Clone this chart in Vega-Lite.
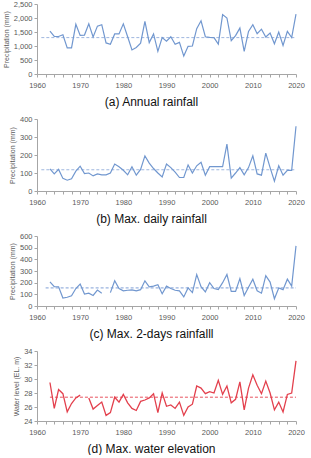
{
  "$schema": "https://vega.github.io/schema/vega-lite/v6.json",
  "padding": {"top": 0, "left": 2, "right": 4, "bottom": 0},
  "config": {
    "view": {"stroke": null},
    "font": "Liberation Sans",
    "concat": {"spacing": 7},
    "axis": {"grid": false, "domainColor": "#a6a6a6", "tickColor": "#a6a6a6", "labelColor": "#595959", "labelFontSize": 7.5, "titleColor": "#595959", "titleFontSize": 7, "titleFontWeight": "normal", "tickSize": 3},
    "axisX": {"labelFlush": false, "labelOverlap": false, "titleFontSize": 12, "titleColor": "#111111", "titleX": 114, "titleAlign": "center", "titlePadding": 8, "labelPadding": 4},
    "axisY": {"titlePadding": 4, "labelPadding": 2, "labelOverlap": false}
  },
  "datasets": {
    "annual": [
      {"year":1963,"v":1530},{"year":1964,"v":1345},{"year":1965,"v":1340},{"year":1966,"v":1400},{"year":1967,"v":930},{"year":1968,"v":930},{"year":1969,"v":1775},{"year":1970,"v":1380},{"year":1971,"v":1390},{"year":1972,"v":1790},{"year":1973,"v":1320},{"year":1974,"v":1710},{"year":1975,"v":1760},{"year":1976,"v":1110},{"year":1977,"v":1060},{"year":1978,"v":1430},{"year":1979,"v":1430},{"year":1980,"v":1790},{"year":1981,"v":1330},{"year":1982,"v":860},{"year":1983,"v":950},{"year":1984,"v":1100},{"year":1985,"v":1880},{"year":1986,"v":1120},{"year":1987,"v":1430},{"year":1988,"v":810},{"year":1989,"v":1300},{"year":1990,"v":1170},{"year":1991,"v":1330},{"year":1992,"v":1060},{"year":1993,"v":1130},{"year":1994,"v":640},{"year":1995,"v":990},{"year":1996,"v":1000},{"year":1997,"v":1620},{"year":1998,"v":1900},{"year":1999,"v":1330},{"year":2000,"v":1310},{"year":2001,"v":1300},{"year":2002,"v":1070},{"year":2003,"v":2120},{"year":2004,"v":2000},{"year":2005,"v":1190},{"year":2006,"v":1370},{"year":2007,"v":1640},{"year":2008,"v":810},{"year":2009,"v":1520},{"year":2010,"v":1760},{"year":2011,"v":1440},{"year":2012,"v":1600},{"year":2013,"v":1320},{"year":2014,"v":1460},{"year":2015,"v":1080},{"year":2016,"v":1500},{"year":2017,"v":1020},{"year":2018,"v":1520},{"year":2019,"v":1300},{"year":2020,"v":2140}
    ],
    "daily": [
      {"year":1963,"v":123},{"year":1964,"v":95},{"year":1965,"v":120},{"year":1966,"v":70},{"year":1967,"v":60},{"year":1968,"v":68},{"year":1969,"v":110},{"year":1970,"v":138},{"year":1971,"v":97},{"year":1972,"v":100},{"year":1973,"v":84},{"year":1974,"v":95},{"year":1975,"v":90},{"year":1976,"v":90},{"year":1977,"v":100},{"year":1978,"v":150},{"year":1979,"v":135},{"year":1980,"v":115},{"year":1981,"v":90},{"year":1982,"v":135},{"year":1983,"v":88},{"year":1984,"v":120},{"year":1985,"v":195},{"year":1986,"v":155},{"year":1987,"v":125},{"year":1988,"v":100},{"year":1989,"v":78},{"year":1990,"v":150},{"year":1991,"v":130},{"year":1992,"v":105},{"year":1993,"v":75},{"year":1994,"v":75},{"year":1995,"v":145},{"year":1996,"v":100},{"year":1997,"v":140},{"year":1998,"v":160},{"year":1999,"v":88},{"year":2000,"v":135},{"year":2001,"v":135},{"year":2002,"v":135},{"year":2003,"v":135},{"year":2004,"v":260},{"year":2005,"v":72},{"year":2006,"v":100},{"year":2007,"v":130},{"year":2008,"v":90},{"year":2009,"v":130},{"year":2010,"v":195},{"year":2011,"v":95},{"year":2012,"v":88},{"year":2013,"v":210},{"year":2014,"v":130},{"year":2015,"v":55},{"year":2016,"v":140},{"year":2017,"v":88},{"year":2018,"v":115},{"year":2019,"v":115},{"year":2020,"v":360}
    ],
    "twoday": [
      {"year":1963,"v":207},{"year":1964,"v":165},{"year":1965,"v":165},{"year":1966,"v":68},{"year":1967,"v":75},{"year":1968,"v":88},{"year":1969,"v":150},{"year":1970,"v":188},{"year":1971,"v":102},{"year":1972,"v":110},{"year":1973,"v":90},{"year":1974,"v":136},{"year":1975,"v":110},{"year":1976,"v":null},{"year":1977,"v":115},{"year":1978,"v":216},{"year":1979,"v":150},{"year":1980,"v":130},{"year":1981,"v":135},{"year":1982,"v":138},{"year":1983,"v":130},{"year":1984,"v":140},{"year":1985,"v":216},{"year":1986,"v":165},{"year":1987,"v":170},{"year":1988,"v":182},{"year":1989,"v":105},{"year":1990,"v":170},{"year":1991,"v":150},{"year":1992,"v":135},{"year":1993,"v":130},{"year":1994,"v":78},{"year":1995,"v":155},{"year":1996,"v":115},{"year":1997,"v":270},{"year":1998,"v":165},{"year":1999,"v":120},{"year":2000,"v":200},{"year":2001,"v":150},{"year":2002,"v":140},{"year":2003,"v":200},{"year":2004,"v":270},{"year":2005,"v":125},{"year":2006,"v":125},{"year":2007,"v":235},{"year":2008,"v":90},{"year":2009,"v":160},{"year":2010,"v":230},{"year":2011,"v":130},{"year":2012,"v":110},{"year":2013,"v":260},{"year":2014,"v":205},{"year":2015,"v":62},{"year":2016,"v":155},{"year":2017,"v":140},{"year":2018,"v":230},{"year":2019,"v":170},{"year":2020,"v":515}
    ],
    "water": [
      {"year":1963,"v":29.5},{"year":1964,"v":25.8},{"year":1965,"v":28.5},{"year":1966,"v":27.9},{"year":1967,"v":25.3},{"year":1968,"v":26.5},{"year":1969,"v":27.3},{"year":1970,"v":27.7},{"year":1971,"v":null},{"year":1972,"v":27.3},{"year":1973,"v":25.7},{"year":1974,"v":26.2},{"year":1975,"v":26.7},{"year":1976,"v":24.8},{"year":1977,"v":25.2},{"year":1978,"v":27.4},{"year":1979,"v":26.7},{"year":1980,"v":27.8},{"year":1981,"v":26.6},{"year":1982,"v":25.8},{"year":1983,"v":25.5},{"year":1984,"v":26.8},{"year":1985,"v":27.0},{"year":1986,"v":27.3},{"year":1987,"v":27.9},{"year":1988,"v":25.2},{"year":1989,"v":28.0},{"year":1990,"v":26.1},{"year":1991,"v":26.3},{"year":1992,"v":25.8},{"year":1993,"v":26.7},{"year":1994,"v":24.8},{"year":1995,"v":26.0},{"year":1996,"v":26.4},{"year":1997,"v":29.0},{"year":1998,"v":28.7},{"year":1999,"v":27.9},{"year":2000,"v":28.2},{"year":2001,"v":28.0},{"year":2002,"v":29.8},{"year":2003,"v":27.8},{"year":2004,"v":29.0},{"year":2005,"v":26.6},{"year":2006,"v":27.1},{"year":2007,"v":29.6},{"year":2008,"v":25.6},{"year":2009,"v":28.7},{"year":2010,"v":30.6},{"year":2011,"v":29.1},{"year":2012,"v":27.9},{"year":2013,"v":29.7},{"year":2014,"v":28.0},{"year":2015,"v":25.6},{"year":2016,"v":26.7},{"year":2017,"v":25.3},{"year":2018,"v":27.8},{"year":2019,"v":28.0},{"year":2020,"v":32.6}
    ]
  },
  "vconcat": [
    {
      "width": 259, "height": 70,
      "encoding": {
        "x": {"field": "year", "type": "quantitative", "scale": {"domain": [1960, 2020], "nice": false, "zero": false},
              "axis": {"title": "(a) Annual rainfall", "values": [1960,1962,1964,1966,1968,1970,1972,1974,1976,1978,1980,1982,1984,1986,1988,1990,1992,1994,1996,1998,2000,2002,2004,2006,2008,2010,2012,2014,2016,2018,2020], "labelExpr": "datum.value % 10 === 0 ? datum.value : ''"}},
        "y": {"field": "v", "type": "quantitative", "scale": {"domain": [0, 2500], "nice": false},
              "axis": {"title": "Precipitation (mm)", "values": [0,500,1000,1500,2000,2500], "labelExpr": "format(datum.value, ',')"}}
      },
      "layer": [
        {"data": {"values": [{"year": 1961, "year2": 2020, "v": 1300}]}, "mark": {"type": "rule", "color": "#9fb7df", "strokeDash": [3, 2], "strokeWidth": 1},
         "encoding": {"x2": {"field": "year2"}}},
        {"data": {"name": "annual"}, "mark": {"type": "line", "color": "#7197cf", "strokeWidth": 1.2}}
      ]
    },
    {
      "width": 259, "height": 72,
      "encoding": {
        "x": {"field": "year", "type": "quantitative", "scale": {"domain": [1960, 2020], "nice": false, "zero": false},
              "axis": {"title": "(b) Max. daily rainfall", "values": [1960,1962,1964,1966,1968,1970,1972,1974,1976,1978,1980,1982,1984,1986,1988,1990,1992,1994,1996,1998,2000,2002,2004,2006,2008,2010,2012,2014,2016,2018,2020], "labelExpr": "datum.value % 10 === 0 ? datum.value : ''"}},
        "y": {"field": "v", "type": "quantitative", "scale": {"domain": [0, 400], "nice": false},
              "axis": {"title": "Precipitation (mm)", "values": [0,100,200,300,400]}}
      },
      "layer": [
        {"data": {"values": [{"year": 1961, "year2": 2020, "v": 118}]}, "mark": {"type": "rule", "color": "#9fb7df", "strokeDash": [3, 2], "strokeWidth": 1},
         "encoding": {"x2": {"field": "year2"}}},
        {"data": {"name": "daily"}, "mark": {"type": "line", "color": "#7197cf", "strokeWidth": 1.2}}
      ]
    },
    {
      "width": 259, "height": 70,
      "encoding": {
        "x": {"field": "year", "type": "quantitative", "scale": {"domain": [1960, 2020], "nice": false, "zero": false},
              "axis": {"title": "(c) Max. 2-days rainfalll", "values": [1960,1962,1964,1966,1968,1970,1972,1974,1976,1978,1980,1982,1984,1986,1988,1990,1992,1994,1996,1998,2000,2002,2004,2006,2008,2010,2012,2014,2016,2018,2020], "labelExpr": "datum.value % 10 === 0 ? datum.value : ''"}},
        "y": {"field": "v", "type": "quantitative", "scale": {"domain": [0, 600], "nice": false},
              "axis": {"title": "Precipitation (mm)", "values": [0,100,200,300,400,500,600]}}
      },
      "layer": [
        {"data": {"values": [{"year": 1962, "year2": 2020, "v": 155}]}, "mark": {"type": "rule", "color": "#7f9fd6", "strokeDash": [3, 2], "strokeWidth": 1},
         "encoding": {"x2": {"field": "year2"}}},
        {"data": {"name": "twoday"}, "mark": {"type": "line", "color": "#7197cf", "strokeWidth": 1.2, "invalid": "break-paths-filter-domains"}}
      ]
    },
    {
      "width": 259, "height": 70,
      "encoding": {
        "x": {"field": "year", "type": "quantitative", "scale": {"domain": [1960, 2020], "nice": false, "zero": false},
              "axis": {"title": "(d) Max. water elevation", "values": [1960,1962,1964,1966,1968,1970,1972,1974,1976,1978,1980,1982,1984,1986,1988,1990,1992,1994,1996,1998,2000,2002,2004,2006,2008,2010,2012,2014,2016,2018,2020], "labelExpr": "datum.value % 10 === 0 ? datum.value : ''"}},
        "y": {"field": "v", "type": "quantitative", "scale": {"domain": [24, 34], "nice": false, "zero": false},
              "axis": {"title": "Water level (EL. m)", "values": [24,26,28,30,32,34]}}
      },
      "layer": [
        {"data": {"values": [{"year": 1963, "year2": 2020, "v": 27.4}]}, "mark": {"type": "rule", "color": "#e8535f", "strokeDash": [3, 2], "strokeWidth": 1},
         "encoding": {"x2": {"field": "year2"}}},
        {"data": {"name": "water"}, "mark": {"type": "line", "color": "#e3404d", "strokeWidth": 1.3, "invalid": "break-paths-filter-domains"}}
      ]
    }
  ]
}
